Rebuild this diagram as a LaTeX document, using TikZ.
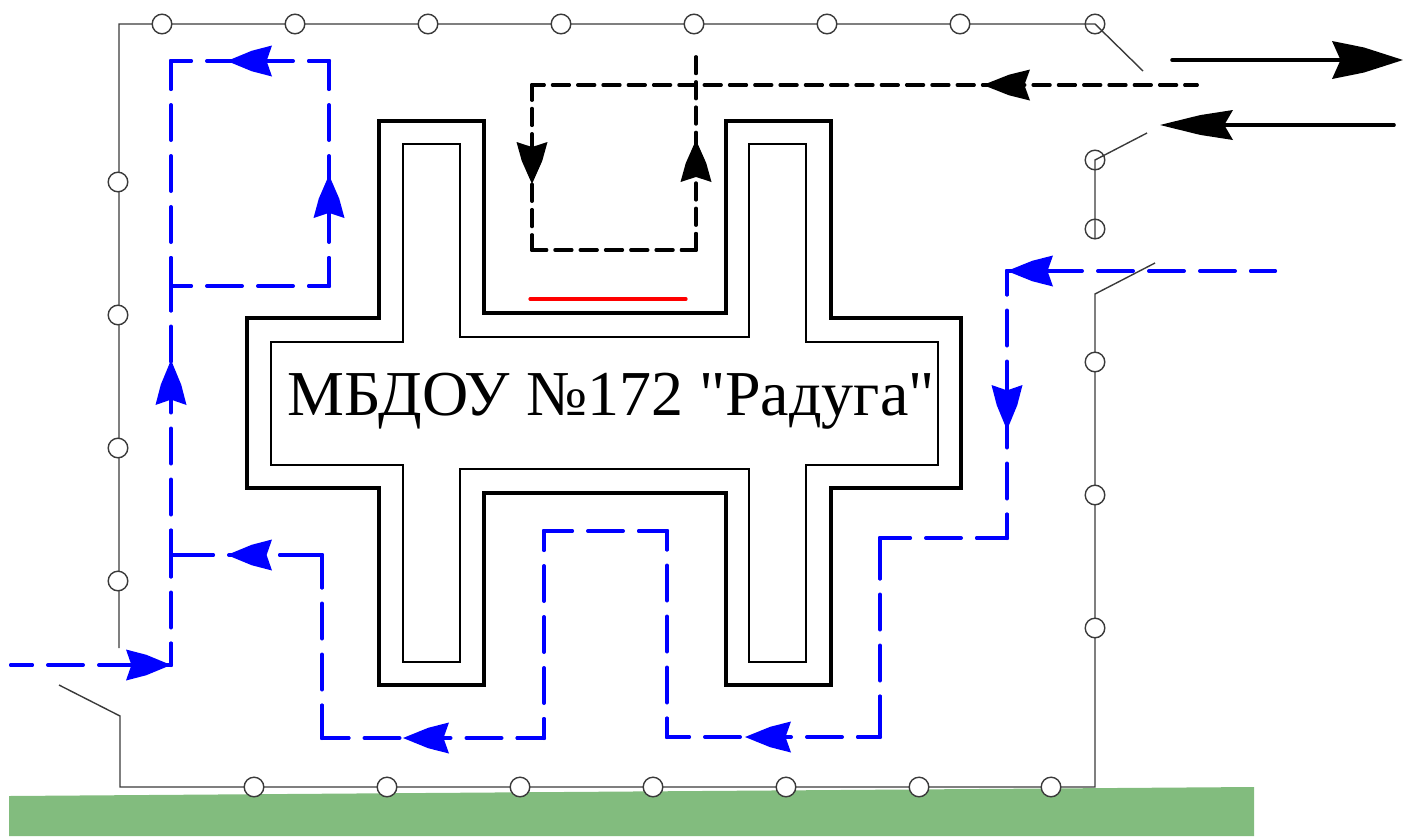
\documentclass[tikz,border=0pt]{standalone}
\usepackage{fontspec}
\newfontfamily\titlefont{Liberation Serif}
\definecolor{lawn}{HTML}{82BC7E}
\definecolor{fenceC}{HTML}{3A3A3A}
\tikzset{
 fence/.style={draw=fenceC,line width=1.4pt},
 post/.style={draw=fenceC,line width=1.4pt,fill=white},
 postopen/.style={draw=fenceC,line width=1.4pt},
 wallout/.style={draw=black,line width=4pt,line join=miter},
 wallin/.style={draw=black,line width=2pt,line join=miter},
 solidroute/.style={draw=black,line width=3.6pt,line cap=round},
}
% tip x, tip y, visual angle (flipped y), length, half width, colour
\newcommand{\ahead}[6]{\fill[#6,line join=round,shift={(#1,#2)},rotate=#3] (0,0) -- (-0.55*#4,0.66*#5) -- (-#4,#5) -- (-0.88*#4,0) -- (-#4,-#5) -- (-0.55*#4,-0.66*#5) -- cycle;}
% symmetric dashed segment: colour, width, on, off, x1,y1,x2,y2
\newcommand{\dseg}[8]{%
 \pgfmathsetmacro\segL{veclen(#7-#5,#8-#6)}%
 \pgfmathsetmacro\segP{#3+#4}%
 \pgfmathsetmacro\segN{floor(\segL/\segP)}%
 \pgfmathsetmacro\segA{(\segL-\segN*\segP+#3)/2}%
 \pgfmathsetmacro\segOn{#3-#2}%
 \pgfmathsetmacro\segOff{#4+#2}%
 \pgfmathsetmacro\segPh{mod(\segOn-(\segA-#2/2)+2*\segP,\segP)}%
 \pgfmathsetmacro\segT{(\segA-#2/2)/\segL}%
 \pgfmathsetmacro\segSx{#5+\segT*(#7-#5)}%
 \pgfmathsetmacro\segSy{#6+\segT*(#8-#6)}%
 \pgfmathsetmacro\segEx{#7-\segT*(#7-#5)}%
 \pgfmathsetmacro\segEy{#8-\segT*(#8-#6)}%
 \draw[#1,line width=#2pt,line cap=round,dash pattern=on \segOn pt off \segOff pt,dash phase=\segPh pt] (#5,#6) -- (#7,#8);%
 \draw[#1,line width=#2pt,line cap=round] (#5,#6) -- (\segSx,\segSy) (\segEx,\segEy) -- (#7,#8);%
}
\newcommand{\bseg}[4]{\dseg{blue}{4}{39}{12}{#1}{#2}{#3}{#4}}
\newcommand{\kseg}[4]{\dseg{black}{3.5}{20.3}{5}{#1}{#2}{#3}{#4}}
\begin{document}
\begin{tikzpicture}[x=1pt,y=-1pt]
\useasboundingbox (0,0) rectangle (1403,836);
\fill[lawn] (9,796) -- (1254,787) -- (1254,836) -- (9,836) -- cycle;
% fence
\draw[fence] (119,648) -- (119,24) -- (1095,24) -- (1143,71);
\draw[fence] (1147,133) -- (1095,160) -- (1095,239);
\draw[fence] (1155,263) -- (1095,294) -- (1095,787) -- (120,787) -- (120,716) -- (59,685);
\foreach \x in {162,295,428,561,694,827,960} \path[post] (\x,24) circle (9.8);
\path[postopen] (1095,24) circle (9.8);
\foreach \y in {182,315,448,581} \path[post] (118,\y) circle (9.8);
\path[postopen] (1095,160) circle (9.8);
\path[postopen] (1095,229) circle (9.8);
\foreach \y in {362,495,628} \path[post] (1095,\y) circle (9.8);
\foreach \x in {254,387,520,653,786,919,1051} \path[post] (\x,787) circle (9.8);
% building
\draw[wallout] (379,121) -- (484,121) -- (484,313) -- (726,313) -- (726,121) -- (831,121) -- (831,318) -- (961,318) -- (961,488) -- (831,488) -- (831,685) -- (726,685) -- (726,493) -- (484,493) -- (484,685) -- (379,685) -- (379,488) -- (247,488) -- (247,318) -- (379,318) -- cycle;
\draw[wallin] (403,144) -- (460,144) -- (460,337) -- (749,337) -- (749,144) -- (806,144) -- (806,342) -- (938,342) -- (938,465) -- (806,465) -- (806,662) -- (749,662) -- (749,469) -- (460,469) -- (460,662) -- (403,662) -- (403,465) -- (271,465) -- (271,342) -- (403,342) -- cycle;
\node[font=\titlefont\fontsize{64}{64}\selectfont,inner sep=0pt] (title) at (611,401) {МБДОУ №172 "Радуга"};
\draw[red,line width=3.2pt,line cap=round] (530,299) -- (686,299);
% blue routes
\bseg{11}{665}{171}{665}
\bseg{171}{665}{171}{555}
\bseg{171}{555}{171}{286}
\bseg{171}{286}{171}{61}
\bseg{171}{61}{329}{61}
\bseg{329}{61}{329}{286}
\bseg{329}{286}{171}{286}
\bseg{1275}{271}{1007}{271}
\bseg{1007}{271}{1007}{538}
\bseg{1007}{538}{880}{538}
\bseg{880}{538}{880}{737}
\bseg{880}{737}{667}{737}
\bseg{667}{737}{667}{531}
\bseg{667}{531}{544}{531}
\bseg{544}{531}{544}{738}
\bseg{544}{738}{322}{738}
\bseg{322}{738}{322}{555}
\bseg{322}{555}{171}{555}
\ahead{171}{665}{0}{45}{15.5}{blue}
\ahead{171}{360}{90}{45}{15.5}{blue}
\ahead{227}{61}{180}{45}{15.5}{blue}
\ahead{329}{175}{90}{43}{15.5}{blue}
\ahead{227}{555}{180}{45}{15.5}{blue}
\ahead{403}{738}{180}{46}{15.5}{blue}
\ahead{745}{737}{180}{46}{15.5}{blue}
\ahead{1007}{430}{-90}{45}{15.5}{blue}
\ahead{1007}{271}{180}{46}{15.5}{blue}
% black routes
\kseg{1197}{85}{532}{85}
\kseg{532}{85}{532}{250}
\kseg{532}{250}{696}{250}
\kseg{696}{250}{696}{57}
\ahead{983}{85}{180}{47}{15.5}{black}
\ahead{532}{184}{-90}{42}{15.5}{black}
\ahead{696}{140}{90}{42}{15.5}{black}
\draw[solidroute] (1172,60) -- (1350,60);
\ahead{1403}{60}{0}{71}{19}{black}
\draw[solidroute] (1394,125) -- (1220,125);
\ahead{1160}{125}{180}{73}{15}{black}
\end{tikzpicture}
\end{document}
